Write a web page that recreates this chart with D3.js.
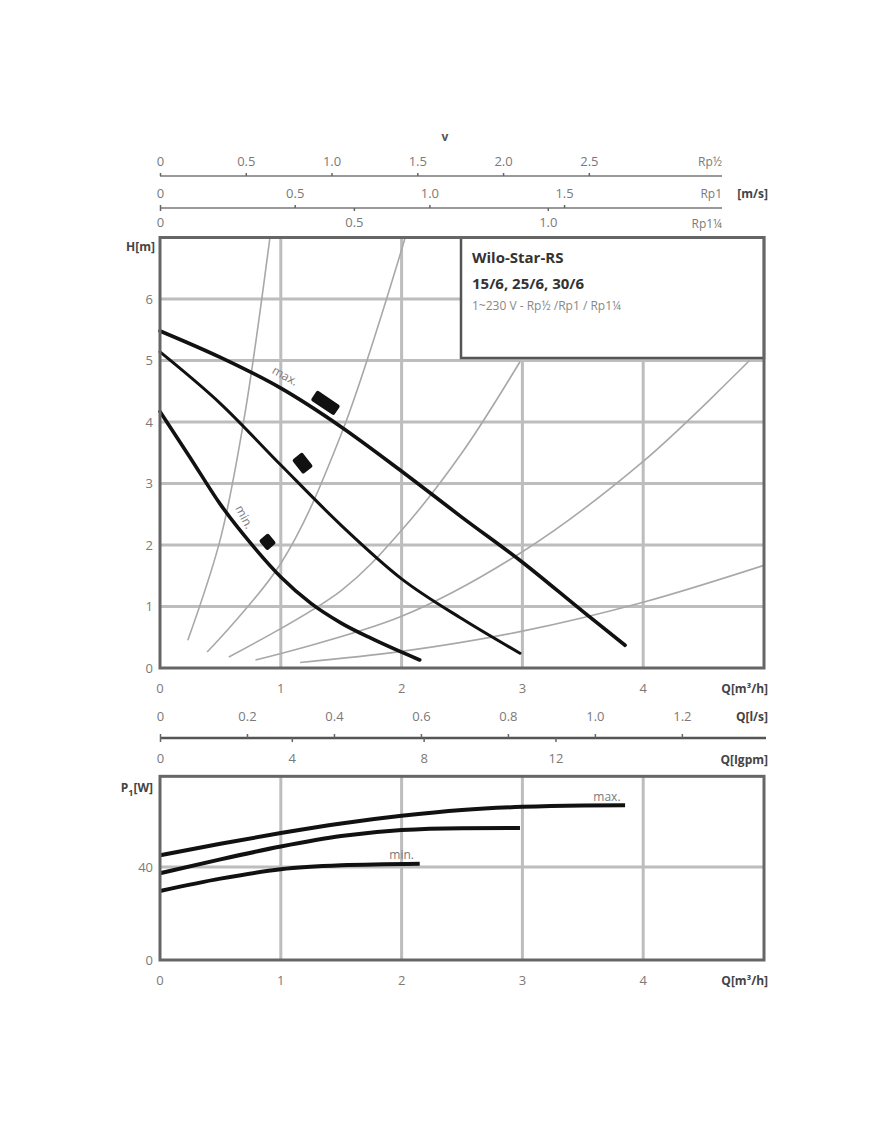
<!DOCTYPE html>
<html lang="de">
<head>
<meta charset="utf-8">
<title>Wilo-Star-RS</title>
<script src="https://cdn.jsdelivr.net/npm/d3@7"></script>
<style>
  body { margin: 0; background: #fff; }
  text { font-family: "Open Sans", "DejaVu Sans", sans-serif; }
</style>
</head>
<body>
<script>

// ---- data ----
var qTicks = [0, 1, 2, 3, 4];
var hTicks = [0, 1, 2, 3, 4, 5, 6];
var pTicks = [0, 40];

// pump curves H(Q), [Q m3/h, H m]
var hMax = [[0, 5.48], [0.5, 5.05], [1, 4.55], [1.5, 3.92], [2, 3.2], [2.5, 2.45], [3, 1.72], [3.5, 0.92], [3.85, 0.37]];
var hMid = [[0, 5.14], [0.5, 4.3], [1, 3.3], [1.5, 2.32], [2, 1.45], [2.5, 0.8], [2.98, 0.24]];
var hMin = [[0, 4.17], [0.25, 3.42], [0.5, 2.66], [0.75, 2.03], [1, 1.48], [1.25, 1.05], [1.5, 0.73], [1.75, 0.48], [2.15, 0.13]];

// system curves (thin grey)
var sys1 = [[0.23, 0.45], [0.5, 2.1], [0.7, 4.1], [0.91, 7.0]];
var sys2 = [[0.39, 0.26], [1.0, 1.7], [1.5, 3.8], [2.03, 7.0]];
var sys3 = [[0.57, 0.18], [1.5, 1.26], [2.0, 2.24], [2.5, 3.5], [2.98, 4.98]];
var sys4 = [[0.79, 0.13], [2.0, 0.84], [3.0, 1.89], [4.0, 3.36], [4.88, 5.0]];
var sys5 = [[1.16, 0.09], [2.0, 0.27], [3.0, 0.60], [4.0, 1.07], [5.0, 1.67]];

// speed setting markers, [Q, H]
var markers = [[1.37, 4.31], [1.18, 3.33], [0.89, 2.05]];

// power P1(Q), [Q m3/h, P W]
var pMax = [[0, 45.0], [0.5, 50.0], [1, 54.6], [1.5, 58.7], [2, 62.0], [2.5, 64.5], [3, 65.9], [3.5, 66.5], [3.85, 66.6]];
var pMid = [[0, 37.3], [0.5, 43.3], [1, 48.8], [1.5, 53.3], [2, 55.9], [2.5, 56.7], [2.98, 56.8]];
var pMin = [[0, 29.7], [0.5, 35.0], [1, 39.0], [1.5, 40.7], [2.15, 41.4]];

// velocity axes: Q (m3/h) that gives 1 m/s in each pipe size
var pipes = ["Rp½", "Rp1", "Rp1¼"];
var pipeQ = [1.42, 2.23, 3.21];
var vTicksHalf = [0, 0.5, 1.0, 1.5, 2.0, 2.5];
var vTicks1 = [0, 0.5, 1.0, 1.5];
var vTicks114 = [0, 0.5, 1.0];

// other flow units
var lsTicks = [0, 0.2, 0.4, 0.6, 0.8, 1.0, 1.2];
var gpmTicks = [0, 4, 8, 12];

// ---- drawing ----
var w = 870, h = 1128;
var svg = d3.select("body").append("svg").attr("width", w).attr("height", h);

var x = d3.scaleLinear().domain([0, 5]).range([160, 764]);
var y = d3.scaleLinear().domain([0, 7]).range([668, 237.5]);
var yP = d3.scaleLinear().domain([0, 40]).range([960, 867]);

var gridCol = "#bdbdbd", frameCol = "#666", tickCol = "#7a7a7a";
var fmt1 = d => d === 0 ? "0" : d3.format(".1f")(d);

// legend box area
var boxX = 461, boxB = 358;

// main grid
svg.selectAll(".vgrid").data([1, 2, 3, 4]).enter().append("line")
   .attr("x1", d => x(d)).attr("x2", d => x(d))
   .attr("y1", y(0)).attr("y2", d => x(d) > boxX ? boxB : y(7))
   .attr("stroke", gridCol).attr("stroke-width", 3);
svg.selectAll(".hgrid").data([1, 2, 3, 4, 5, 6]).enter().append("line")
   .attr("x1", x(0)).attr("x2", d => y(d) < boxB ? boxX : x(5))
   .attr("y1", d => y(d)).attr("y2", d => y(d))
   .attr("stroke", gridCol).attr("stroke-width", 3);

svg.append("clipPath").attr("id", "mainClip").append("rect")
   .attr("x", x(0)).attr("y", y(7)).attr("width", x(5) - x(0)).attr("height", y(0) - y(7));

var sline = d3.line().x(d => x(d[0])).y(d => y(d[1])).curve(d3.curveCatmullRom);
var line = d3.line().x(d => x(d[0])).y(d => y(d[1])).curve(d3.curveMonotoneX);

svg.append("g").attr("clip-path", "url(#mainClip)")
   .selectAll("path").data([sys1, sys2, sys3, sys4, sys5]).enter().append("path")
   .attr("d", sline).attr("fill", "none").attr("stroke", "#a8a8a8").attr("stroke-width", 1.6);

svg.selectAll(".hcurve").data([hMax, hMid, hMin]).enter().append("path")
   .attr("d", line).attr("fill", "none").attr("stroke", "#111")
   .attr("stroke-width", (d, i) => i === 1 ? 3 : 3.6).attr("stroke-linecap", "round");

// markers
var mSize = [[28, 12, 34], [18, 13, 52], [13, 12, 50]];
svg.selectAll(".marker").data(markers).enter().append("rect")
   .attr("x", (d, i) => -mSize[i][0] / 2).attr("y", (d, i) => -mSize[i][1] / 2)
   .attr("width", (d, i) => mSize[i][0]).attr("height", (d, i) => mSize[i][1])
   .attr("rx", 2)
   .attr("transform", (d, i) => "translate(" + x(d[0]) + "," + y(d[1]) + ") rotate(" + mSize[i][2] + ")")
   .attr("fill", "#111");

svg.append("text").attr("transform", "translate(" + x(0.92) + "," + y(4.8) + ") rotate(29)")
   .attr("font-size", 12).attr("fill", tickCol).text("max.");
svg.append("text").attr("transform", "translate(" + x(0.62) + "," + y(2.6) + ") rotate(62)")
   .attr("font-size", 12).attr("fill", tickCol).text("min.");

// legend box
svg.append("rect").attr("x", boxX).attr("y", y(7)).attr("width", x(5) - boxX).attr("height", boxB - y(7))
   .attr("fill", "#fff").attr("stroke", "#555").attr("stroke-width", 2.5);
svg.append("text").attr("x", 472).attr("y", 263).attr("font-size", 15).attr("font-weight", "bold")
   .attr("fill", "#333").text("Wilo-Star-RS");
svg.append("text").attr("x", 472).attr("y", 289).attr("font-size", 15).attr("font-weight", "bold")
   .attr("fill", "#333").text("15/6, 25/6, 30/6");
svg.append("text").attr("x", 472).attr("y", 310).attr("font-size", 12).attr("fill", "#888")
   .text("1~230 V - Rp½ /Rp1 / Rp1¼");

// main frame
svg.append("rect").attr("x", x(0)).attr("y", y(7)).attr("width", x(5) - x(0)).attr("height", y(0) - y(7))
   .attr("fill", "none").attr("stroke", frameCol).attr("stroke-width", 3);

// H axis labels
svg.selectAll(".hlab").data(hTicks).enter().append("text")
   .attr("x", 153).attr("y", d => y(d)).attr("dy", "0.35em").attr("text-anchor", "end")
   .attr("font-size", 13).attr("fill", tickCol).text(d => d);
svg.append("text").attr("x", 155).attr("y", 251).attr("text-anchor", "end")
   .attr("font-size", 12).attr("font-weight", "bold").attr("fill", "#444").text("H[m]");

// Q axis labels (main)
svg.selectAll(".qlab").data(qTicks).enter().append("text")
   .attr("x", d => x(d)).attr("y", 693).attr("text-anchor", "middle")
   .attr("font-size", 13).attr("fill", tickCol).text(d => d);
svg.append("text").attr("x", 768).attr("y", 693).attr("text-anchor", "end")
   .attr("font-size", 12).attr("font-weight", "bold").attr("fill", "#444").text("Q[m³/h]");

// l/s and Igpm axis
var xLs = d3.scaleLinear().domain([0, 1]).range([x(0), x(3.6)]);
var xGpm = d3.scaleLinear().domain([0, 1]).range([x(0), x(0.2728)]);
svg.append("line").attr("x1", x(0)).attr("x2", 766).attr("y1", 738).attr("y2", 738)
   .attr("stroke", "#555").attr("stroke-width", 2.5);
svg.append("g").attr("transform", "translate(0,738)")
   .call(d3.axisTop(xLs).tickValues(lsTicks).tickFormat(fmt1).tickSize(4).tickPadding(13))
   .call(g => g.select(".domain").remove());
svg.append("g").attr("transform", "translate(0,738)")
   .call(d3.axisBottom(xGpm).tickValues(gpmTicks).tickFormat(d => d).tickSize(4).tickPadding(12))
   .call(g => g.select(".domain").remove());
svg.append("text").attr("x", 768).attr("y", 721).attr("text-anchor", "end")
   .attr("font-size", 12).attr("font-weight", "bold").attr("fill", "#444").text("Q[l/s]");
svg.append("text").attr("x", 768).attr("y", 764).attr("text-anchor", "end")
   .attr("font-size", 12).attr("font-weight", "bold").attr("fill", "#444").text("Q[Igpm]");

// velocity axes on top
var vHalf = d3.scaleLinear().domain([0, 1]).range([x(0), x(pipeQ[0])]);
var v1 = d3.scaleLinear().domain([0, 1]).range([x(0), x(pipeQ[1])]);
var v114 = d3.scaleLinear().domain([0, 1]).range([x(0), x(pipeQ[2])]);
[176, 208].forEach(function (ly) {
  svg.append("line").attr("x1", x(0)).attr("x2", 722).attr("y1", ly).attr("y2", ly)
     .attr("stroke", "#999").attr("stroke-width", 2.2);
});
svg.append("g").attr("transform", "translate(0,176)")
   .call(d3.axisTop(vHalf).tickValues(vTicksHalf).tickFormat(fmt1).tickSize(3).tickPadding(7))
   .call(g => g.select(".domain").remove());
svg.append("g").attr("transform", "translate(0,208)")
   .call(d3.axisTop(v1).tickValues(vTicks1).tickFormat(fmt1).tickSize(3).tickPadding(7))
   .call(g => g.select(".domain").remove());
svg.append("g").attr("transform", "translate(0,208)")
   .call(d3.axisBottom(v114).tickValues(vTicks114).tickFormat(fmt1).tickSize(3).tickPadding(7))
   .call(g => g.select(".domain").remove());
svg.selectAll(".pipe").data(pipes).enter().append("text")
   .attr("x", 722).attr("y", (d, i) => [166, 198, 228][i]).attr("text-anchor", "end")
   .attr("font-size", 12).attr("fill", tickCol).text(d => d);
svg.append("text").attr("x", 768).attr("y", 198).attr("text-anchor", "end")
   .attr("font-size", 12).attr("font-weight", "bold").attr("fill", "#444").text("[m/s]");
svg.append("text").attr("x", 445).attr("y", 141).attr("text-anchor", "middle")
   .attr("font-size", 12).attr("font-weight", "bold").attr("fill", "#555").text("v");

// ---- power chart ----
var pTop = yP(79);
svg.selectAll(".pvgrid").data([1, 2, 3, 4]).enter().append("line")
   .attr("x1", d => x(d)).attr("x2", d => x(d)).attr("y1", yP(0)).attr("y2", pTop)
   .attr("stroke", gridCol).attr("stroke-width", 3);
svg.append("line").attr("x1", x(0)).attr("x2", x(5)).attr("y1", yP(40)).attr("y2", yP(40))
   .attr("stroke", gridCol).attr("stroke-width", 3);

var pline = d3.line().x(d => x(d[0])).y(d => yP(d[1])).curve(d3.curveMonotoneX);
svg.selectAll(".pcurve").data([pMax, pMid, pMin]).enter().append("path")
   .attr("d", pline).attr("fill", "none").attr("stroke", "#111").attr("stroke-width", 4);

svg.append("text").attr("x", x(3.7)).attr("y", yP(68.5)).attr("text-anchor", "middle")
   .attr("font-size", 12).attr("fill", tickCol).text("max.");
svg.append("text").attr("x", x(2.0)).attr("y", yP(43.5)).attr("text-anchor", "middle")
   .attr("font-size", 12).attr("fill", tickCol).text("min.");

svg.append("rect").attr("x", x(0)).attr("y", pTop).attr("width", x(5) - x(0)).attr("height", yP(0) - pTop)
   .attr("fill", "none").attr("stroke", frameCol).attr("stroke-width", 3);

svg.selectAll(".plab").data(pTicks).enter().append("text")
   .attr("x", 153).attr("y", d => yP(d)).attr("dy", "0.35em").attr("text-anchor", "end")
   .attr("font-size", 13).attr("fill", tickCol).text(d => d);
var pt = svg.append("text").attr("x", 153).attr("y", 792).attr("text-anchor", "end")
   .attr("font-size", 12).attr("font-weight", "bold").attr("fill", "#444");
pt.append("tspan").text("P");
pt.append("tspan").attr("dy", 4).attr("font-size", 9).text("1");
pt.append("tspan").attr("dy", -4).text("[W]");

svg.selectAll(".pqlab").data(qTicks).enter().append("text")
   .attr("x", d => x(d)).attr("y", 985).attr("text-anchor", "middle")
   .attr("font-size", 13).attr("fill", tickCol).text(d => d);
svg.append("text").attr("x", 768).attr("y", 985).attr("text-anchor", "end")
   .attr("font-size", 12).attr("font-weight", "bold").attr("fill", "#444").text("Q[m³/h]");

// axis text style
svg.selectAll(".tick text").attr("font-size", 13).attr("fill", tickCol)
   .attr("font-family", "'Open Sans', 'DejaVu Sans', sans-serif");
svg.selectAll(".tick line").attr("stroke", "#666").attr("stroke-width", 1.5);

</script>
</body>
</html>
